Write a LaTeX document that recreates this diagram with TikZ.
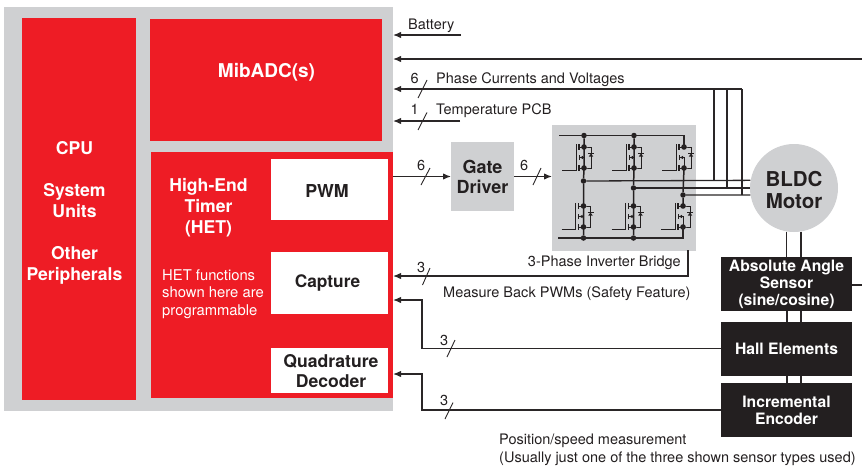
\documentclass[tikz,border=0pt]{standalone}
\usepackage{fontspec}
\setmainfont{TeX Gyre Heros}
\usetikzlibrary{arrows.meta}
\definecolor{txiRed}{HTML}{EE1C25}
\definecolor{txiGray}{HTML}{CFD0D2}
\definecolor{txiBlack}{HTML}{231F20}
\definecolor{txiWire}{HTML}{2A2627}
\tikzset{
  panel/.style={inner sep=0pt,outer sep=0pt,draw=none,align=center},
  redbox/.style={panel,fill=txiRed},
  graybox/.style={panel,fill=txiGray},
  whitebox/.style={panel,fill=white},
  blackbox/.style={panel,fill=txiBlack,minimum width=131pt,minimum height=54pt,text=white,font=\fontsize{15.7}{17}\selectfont\bfseries},
  bigw/.style={inner sep=0pt,align=center,text=white,font=\fontsize{17.6}{21}\selectfont\bfseries},
  bigk/.style={inner sep=0pt,align=center,text=txiBlack,font=\fontsize{17.6}{20}\selectfont\bfseries},
  lbl/.style={inner sep=0pt,anchor=base west,text=txiBlack,font=\fontsize{14.5}{16}\selectfont},
  lblr/.style={lbl,anchor=base east},
  wire/.style={draw=txiWire,line width=1.3pt},
  wirea/.style={wire,-{Latex[length=8pt,width=6.5pt]}},
  slash/.style={draw=txiWire,line width=0.9pt},
  rail/.style={draw=txiBlack,line width=1.4pt},
  thin rail/.style={draw=txiBlack,line width=1pt},
  heavy rail/.style={draw=txiBlack,line width=1.5pt},
  fet/.pic={
    \draw[thin rail] (-22,23.5) -- (-8,23.5) -- (-8,-3);
    \draw[rail] (-5,-3) -- (-5,3);
    \draw[thin rail] (-5,0) -- (0,0) -- (7,0) -- (7,21) -- (0,21) -- (-5,21);
    \draw[rail] (-5,18) -- (-5,24);
    \draw[thin rail] (-5,8) -- (-5,13);
    \draw[thin rail] (-5,10.5) -- (0,10.5) -- (0,21);
    \fill[txiBlack] (-4,10.5) -- (-1,8.8) -- (-1,12.2) -- cycle;
    \draw[thin rail] (4,6) -- (10,6);
    \fill[txiBlack] (7,6.5) -- (4.8,9.5) -- (9.2,9.5) -- cycle;
    \fill[txiBlack] (0,0) circle (2.8);
    \fill[txiBlack] (0,21) circle (2.8);
  },
  jdot/.style={circle,fill=txiBlack,inner sep=0pt,minimum size=5.5pt}
}
\begin{document}
\begin{tikzpicture}[x=1pt,y=-1pt]
\useasboundingbox (0,0) rectangle (862,466);
% panels
\node[graybox,minimum width=389pt,minimum height=404pt] (base) at (198.5,209) {};
\node[redbox,minimum width=114pt,minimum height=382pt] (cpu) at (79,209) {};
\node[redbox,minimum width=232pt,minimum height=122pt] (adc) at (266,80) {};
\node[redbox,minimum width=242pt,minimum height=246pt] (het) at (272,275) {};
\node[whitebox,minimum width=117pt,minimum height=61pt] (pwm) at (329.5,189.5) {};
\node[whitebox,minimum width=117pt,minimum height=62pt] (cap) at (329.5,283) {};
\node[whitebox,minimum width=117pt,minimum height=45pt] (quad) at (329.5,370.5) {};
\node[bigw] (cputext) at (74.5,213) {CPU\\[21pt]System\\Units\\[21pt]Other\\Peripherals};
\node[bigw,font=\fontsize{19}{21}\selectfont\bfseries] (adctext) at (266.5,72) {MibADC(s)};
\node[bigw] (hettext) at (208.5,208) {High-End\\Timer\\(HET)};
\node[inner sep=0pt,align=left,anchor=west,text=white,font=\fontsize{14.8}{17.5}\selectfont] (hetnote) at (162,294) {HET functions\\shown here are\\programmable};
\node[bigk,font=\fontsize{17.8}{20}\selectfont\bfseries] (pwmtext) at (327,191) {PWM};
\node[bigk,font=\fontsize{17.3}{20}\selectfont\bfseries] (captext) at (327.5,283) {Capture};
\node[bigk] (quadtext) at (331,371) {Quadrature\\Decoder};
\node[graybox,minimum width=63pt,minimum height=69pt,font=\fontsize{18}{20}\selectfont\bfseries,text=txiBlack] (gate) at (482.5,176.5) {Gate\\Driver};
\node[graybox,minimum width=144pt,minimum height=126pt] (bridge) at (624,188) {};
\node[circle,fill=txiGray,inner sep=0pt,minimum size=88pt] (motor) at (794,188) {};
\node[inner sep=0pt,align=center,text=txiBlack,font=\fontsize{20.5}{22}\selectfont\bfseries] (motortext) at (794,189.5) {BLDC\\Motor};
\node[blackbox] (abs) at (786.5,284) {Absolute Angle\\Sensor\\(sine/cosine)};
\node[blackbox] (hall) at (786.5,348.5) {Hall Elements};
\node[blackbox] (enc) at (786.5,410) {Incremental\\Encoder};
% free ends of the connectors
\coordinate (batt) at (461,35);
\coordinate (tempend) at (460,121);
\coordinate (rightin) at (862,59);
\coordinate (rightout) at (862,285);
\coordinate (busL) at (714,89);
\coordinate (busM) at (727,89);
\coordinate (busR) at (742,89);
\coordinate (inA) at (393,35);
\coordinate (inB) at (393,59);
\coordinate (inC) at (393,89);
\coordinate (inD) at (393,121);
\coordinate (capin) at (393,276);
\coordinate (hallin) at (393,300);
\coordinate (encin) at (393,374);
\coordinate (pwmout) at (393,176.5);
\coordinate (bridgeout) at (688,250);
% bridge transistors
\pic at (584,147) {fet};
\pic at (634,147) {fet};
\pic at (684,147) {fet};
\pic at (583.5,206) {fet};
\pic at (633.5,206) {fet};
\pic at (683,206) {fet};
\node[jdot] (tr1) at (584,135.5) {};
\node[jdot] (tr2) at (634,135.5) {};
\coordinate (tr0) at (559,135.5);
\coordinate (tr3) at (684,135.5);
\node[jdot] (br1) at (583.5,238) {};
\node[jdot] (br2) at (633.5,238) {};
\coordinate (br0) at (558,238);
\coordinate (br3) at (683,238);
\node[jdot] (ph1) at (583.5,181) {};
\node[jdot] (ph2) at (633.5,188) {};
\node[jdot] (ph3) at (683,195) {};
\draw[wire] (tr0) -- (tr3) -- (684,147);
\draw[wire] (br0) -- (br3) -- (683,227);
\draw[heavy rail] (tr1) -- (584,168) -- (ph1) -- (583.5,227) -- (br1);
\draw[heavy rail] (tr2) -- (634,168) -- (ph2) -- (633.5,227) -- (br2);
\draw[heavy rail] (684,168) -- (ph3) -- (683,206);
% connectors
\draw[wire] (ph1) -- (motor.170.85);
\draw[wire] (ph2) -- (motor.180);
\draw[wire] (ph3) -- (motor.189.15);
\draw[wirea] (busR) -- (inC);
\draw[wire] (busR) -- (ph3 -| busR);
\draw[wire] (busM) -- (ph2 -| busM);
\draw[wire] (busL) -- (ph1 -| busL);
\draw[wirea] (batt) -- (inA);
\draw[wirea] (rightin) -- (inB);
\draw[wirea] (tempend) -- (inD);
\draw[wirea] (pwmout) -- (gate.west);
\draw[wirea] (gate.east) -- (bridge.west |- gate.east);
\draw[wirea] (bridgeout) -- (688,276) -- (capin);
\draw[wirea] (hall.west) -- (422,348.5) -- (422,300) -- (hallin);
\draw[wirea] (enc.west) -- (422,410) -- (422,374) -- (encin);
\draw[wire] (abs.east |- rightout) -- (rightout);
\draw[wire] (motor.260.85) -- (motor.260.85 |- abs.north);
\draw[wire] (motor.279.15) -- (motor.279.15 |- abs.north);
\draw[wire] (787,311) -- (787,321.5);
\draw[wire] (801,311) -- (801,321.5);
\draw[wire] (787,375.5) -- (787,383);
\draw[wire] (801,375.5) -- (801,383);
% bus slashes
\draw[slash] (427,80) -- (418,98);
\draw[slash] (427,112.5) -- (418,130);
\draw[slash] (430,168) -- (421,185);
\draw[slash] (541,168) -- (533,185);
\draw[slash] (430,268) -- (422.5,285);
\draw[slash] (455,340) -- (447,357);
\draw[slash] (453,402.5) -- (445,419);
% labels
\node[lbl] (lbatt) at (408,29) {Battery};
\node[lbl] (n6a) at (410.5,83) {6};
\node[lbl] (lphase) at (436,83) {Phase Currents and Voltages};
\node[lbl] (n1) at (410.5,114) {1};
\node[lbl] (ltemp) at (436,114) {Temperature PCB};
\node[lbl] (n6b) at (417,170) {6};
\node[lbl] (n6c) at (520,170) {6};
\node[lblr] (lbridge) at (681,266) {3-Phase Inverter Bridge};
\node[lbl] (n3a) at (417,272) {3};
\node[lbl] (lback) at (443,297) {Measure Back PWMs (Safety Feature)};
\node[lbl] (n3b) at (440,345) {3};
\node[lbl] (n3c) at (440,405) {3};
\node[lbl] (lpos) at (499,444) {Position/speed measurement};
\node[lbl] (lusu) at (499,462) {(Usually just one of the three shown sensor types used)};
\end{tikzpicture}
\end{document}
